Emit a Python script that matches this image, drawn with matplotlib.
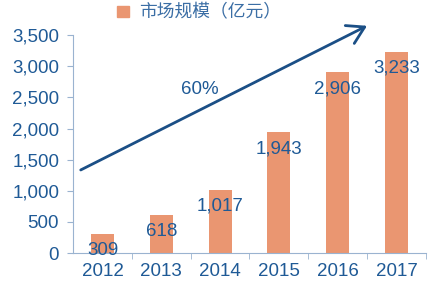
import numpy as np
import matplotlib.pyplot as plt

years = ['2012', '2013', '2014', '2015', '2016', '2017']
market = [309, 618, 1017, 1943, 2906, 3233]
labels = ['309', '618', '1,017', '1,943', '2,906', '3,233']
yticks = [0, 500, 1000, 1500, 2000, 2500, 3000, 3500]
legend_name = '市场规模（亿元）'
growth = '60%'

bar_col = '#EA9671'
txt_col = '#1F5A96'
axis_col = '#9AB3D0'
arrow_col = '#1B4F86'

plt.rcParams['font.family'] = ['Liberation Sans', 'Noto Sans CJK SC', 'DejaVu Sans']

fig = plt.figure(figsize=(4.35, 2.81), dpi=100)
ax = fig.add_axes([0.168, 0.0996, 0.811, 0.7754])

x = np.arange(len(years))
ax.bar(x, market, width=0.39, color=bar_col, zorder=2)

for xi, v, s in zip(x, market, labels):
    ax.annotate(s, (xi, v), xytext=(0, -12), textcoords='offset points',
                ha='center', va='center', fontsize=13.5, color=txt_col, zorder=3)

ax.set_xlim(-0.5, 5.5)
ax.set_ylim(0, 3500)
ax.set_yticks(yticks)
ax.set_yticklabels(['{:,}'.format(t) for t in yticks])
ax.set_xticks(x)
ax.set_xticklabels(years)
ax.set_xticks(np.arange(0.5, 6, 1), minor=True)

for sp in ['top', 'right']:
    ax.spines[sp].set_visible(False)
ax.spines['left'].set_color(axis_col)
ax.spines['bottom'].set_color(axis_col)
ax.tick_params(axis='y', colors=axis_col, labelcolor=txt_col, labelsize=13.5, length=4, pad=6)
ax.tick_params(axis='x', which='major', length=0, labelcolor=txt_col, labelsize=13.5, pad=7)
ax.tick_params(axis='x', which='minor', length=4, color=axis_col, direction='out')

# growth arrow
ax.annotate('', xy=(4.5, 3650), xytext=(-0.37, 1334),
            arrowprops=dict(arrowstyle='->,head_length=0.5,head_width=0.3', color=arrow_col,
                            lw=2, mutation_scale=24, shrinkA=0, shrinkB=0),
            annotation_clip=False, zorder=4)
ax.text(1.66, 2620, growth, fontsize=13.5, color=txt_col, ha='center', va='center')

# legend
fig.patches.append(plt.Rectangle((117 / 435, 1 - 17 / 281), 12 / 435, 11 / 281,
                                 transform=fig.transFigure, color=bar_col))
fig.text(139 / 435, 1 - 12 / 281, legend_name, fontsize=12.8, color='#3B6EA5',
         ha='left', va='center', family=['Noto Sans CJK SC', 'DejaVu Sans'])

fig.savefig('out.png', dpi=100)
